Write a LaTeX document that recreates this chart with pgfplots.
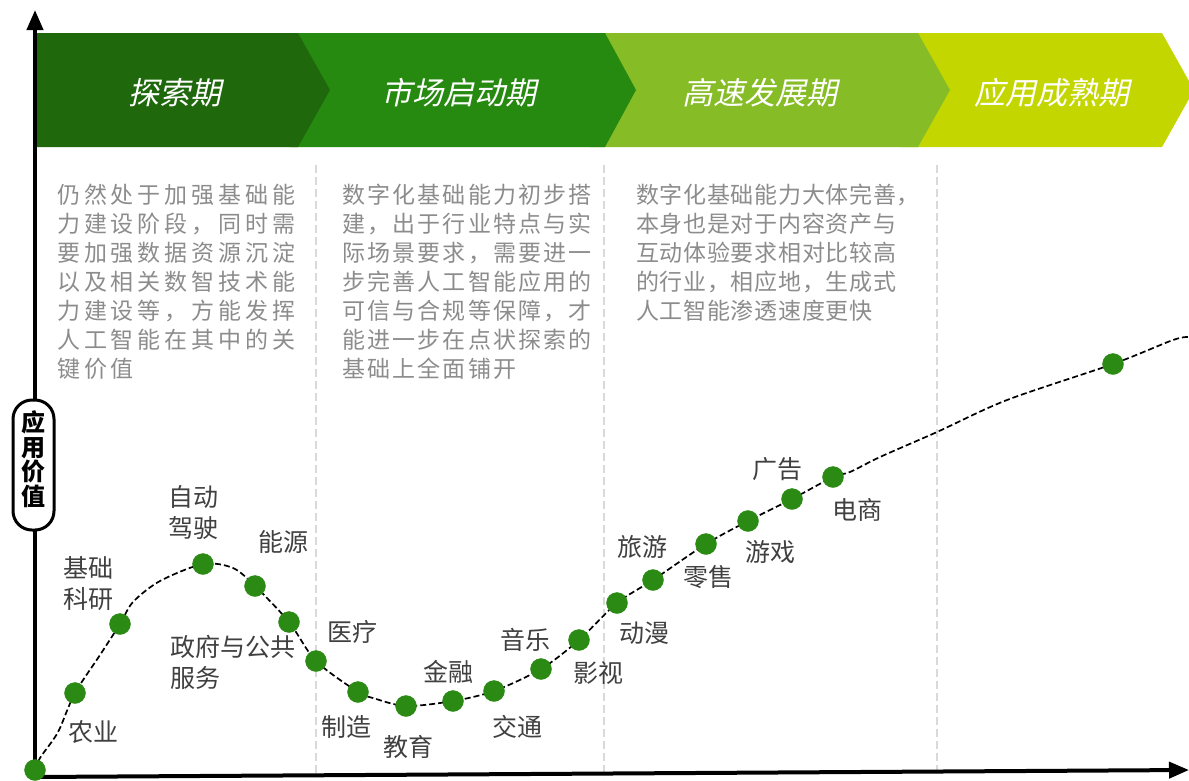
\documentclass[border=0pt]{standalone}
\usepackage{fontspec}
\usepackage{pgfplots}
\pgfplotsset{compat=1.18}
\usetikzlibrary{arrows.meta}
\setmainfont{Noto Sans CJK SC}
\newfontfamily\cjkit[FakeSlant=0.22]{Noto Sans CJK SC}
\newfontfamily\cola[LetterSpace=17]{Noto Sans CJK SC}
\newfontfamily\colb[LetterSpace=9.5]{Noto Sans CJK SC}
\newfontfamily\colc[LetterSpace=3]{Noto Sans CJK SC}
\definecolor{bA}{HTML}{1F690C}
\definecolor{bB}{HTML}{278A10}
\definecolor{bC}{HTML}{86BC25}
\definecolor{bD}{HTML}{C4D600}
\definecolor{dotg}{HTML}{2A8A14}
\definecolor{sepg}{HTML}{D9D9D9}
\definecolor{desc}{HTML}{8C8C8C}
\definecolor{labc}{HTML}{404040}
\tikzset{lab/.style={font=\fontsize{25}{31}\selectfont, text=labc, inner sep=0pt, align=center}}
\begin{document}
\begin{tikzpicture}
\begin{axis}[
  width=1189pt, height=780pt, scale only axis, hide axis,
  xmin=0, xmax=1189, ymin=0, ymax=780, y dir=reverse,
]
\coordinate (TL) at (0,0);
\coordinate (BR) at (1189,780);
% banners
\fill[bD] (900,33) -- (1162,33) -- (1194,90) -- (1162,147) -- (900,147) -- cycle;
\fill[bC] (590,33) -- (918,33) -- (950,90) -- (918,147) -- (590,147) -- cycle;
\fill[bB] (290,33) -- (605,33) -- (636,90) -- (605,147) -- (290,147) -- cycle;
\fill[bA] (35,33) -- (298,33) -- (330,90) -- (298,147) -- (35,147) -- cycle;
\node[text=white, font=\cjkit\fontsize{31}{31}\selectfont, inner sep=0pt] at (175,93) {探索期};
\node[text=white, font=\cjkit\fontsize{31}{31}\selectfont, inner sep=0pt] at (459,93) {市场启动期};
\node[text=white, font=\cjkit\fontsize{31}{31}\selectfont, inner sep=0pt] at (760,93) {高速发展期};
\node[text=white, font=\cjkit\fontsize{31}{31}\selectfont, inner sep=0pt] at (1052,93) {应用成熟期};
% separators
\draw[sepg, line width=2.5pt, dash pattern=on 8pt off 4pt] (316,165) -- (316,777);
\draw[sepg, line width=2.5pt, dash pattern=on 8pt off 4pt] (604,165) -- (604,777);
\draw[sepg, line width=2.5pt, dash pattern=on 8pt off 4pt] (937,165) -- (937,777);
% descriptions
\node[anchor=west, inner sep=0pt, align=left, text=desc, font=\cola\fontsize{23}{29}\selectfont] at (57,282)
 {仍然处于加强基础能\\力建设阶段，同时需\\要加强数据资源沉淀\\以及相关数智技术能\\力建设等，方能发挥\\人工智能在其中的关\\键价值};
\node[anchor=west, inner sep=0pt, align=left, text=desc, font=\colb\fontsize{23}{29}\selectfont] at (342,282)
 {数字化基础能力初步搭\\建，出于行业特点与实\\际场景要求，需要进一\\步完善人工智能应用的\\可信与合规等保障，才\\能进一步在点状探索的\\基础上全面铺开};
\node[anchor=west, inner sep=0pt, align=left, text=desc, font=\colc\fontsize{23}{29}\selectfont] at (636,253)
 {数字化基础能力大体完善，\\本身也是对于内容资产与\\互动体验要求相对比较高\\的行业，相应地，生成式\\人工智能渗透速度更快};
% axes
\draw[black, line width=4pt, -{Triangle[width=16pt,length=20pt]}] (35,779) -- (35,10);
\draw[black, line width=4pt, -{Triangle[width=16pt,length=20pt]}] (33,777) -- (1189,770);
% curve
\addplot[black, line width=1.7pt, dash pattern=on 6pt off 3pt, smooth, tension=0.5] coordinates {
(35,770) (40,758) (53,740) (60,728) (75,693) (100,655) (120,624) (133,602) (160,581) (203,564) (233,568) (255,586) (289,622) (316,661) (358,692) (373,698) (406,706) (453,701) (494,691) (541,669) (579,640) (617,603) (653,580) (706,544) (748,521) (792,499) (833,477) (850,472) (880,457) (937,432) (1007,400) (1113,364) (1173,340) (1189,337)
};
\addplot[only marks, mark=*, mark size=10.5pt, mark options={fill=dotg, draw=dotg}] coordinates {
(35,770) (75,693) (120,624) (203,564) (255,586) (289,622) (316,661) (358,692) (406,706) (453,701) (494,691) (541,669) (579,640) (617,603) (653,580) (706,544) (748,521) (792,499) (833,477) (1113,364)
};
% labels
\node[lab] at (93,732) {农业};
\node[lab] at (88,584) {基础\\科研};
\node[lab] at (193,512) {自动\\驾驶};
\node[lab] at (283,542) {能源};
\node[lab, anchor=west, align=left] at (170,662) {政府与公共\\服务};
\node[lab] at (352,632) {医疗};
\node[lab] at (346,727) {制造};
\node[lab] at (408,747) {教育};
\node[lab] at (448,672) {金融};
\node[lab] at (517,727) {交通};
\node[lab] at (525,640) {音乐};
\node[lab] at (598,673) {影视};
\node[lab] at (644,633) {动漫};
\node[lab] at (642,547) {旅游};
\node[lab] at (708,577) {零售};
\node[lab] at (770,552) {游戏};
\node[lab] at (777,469) {广告};
\node[lab] at (857,510) {电商};
% y label pill
\draw[black, line width=3pt, fill=white, rounded corners=19pt] (13,400) rectangle (54,530);
\node[inner sep=0pt, align=center, font=\fontsize{24}{24.5}\selectfont\bfseries] at (33,459) {应\\用\\价\\值};
\end{axis}
\pgfresetboundingbox
\path[use as bounding box] (TL) rectangle (BR);
\end{tikzpicture}
\end{document}
